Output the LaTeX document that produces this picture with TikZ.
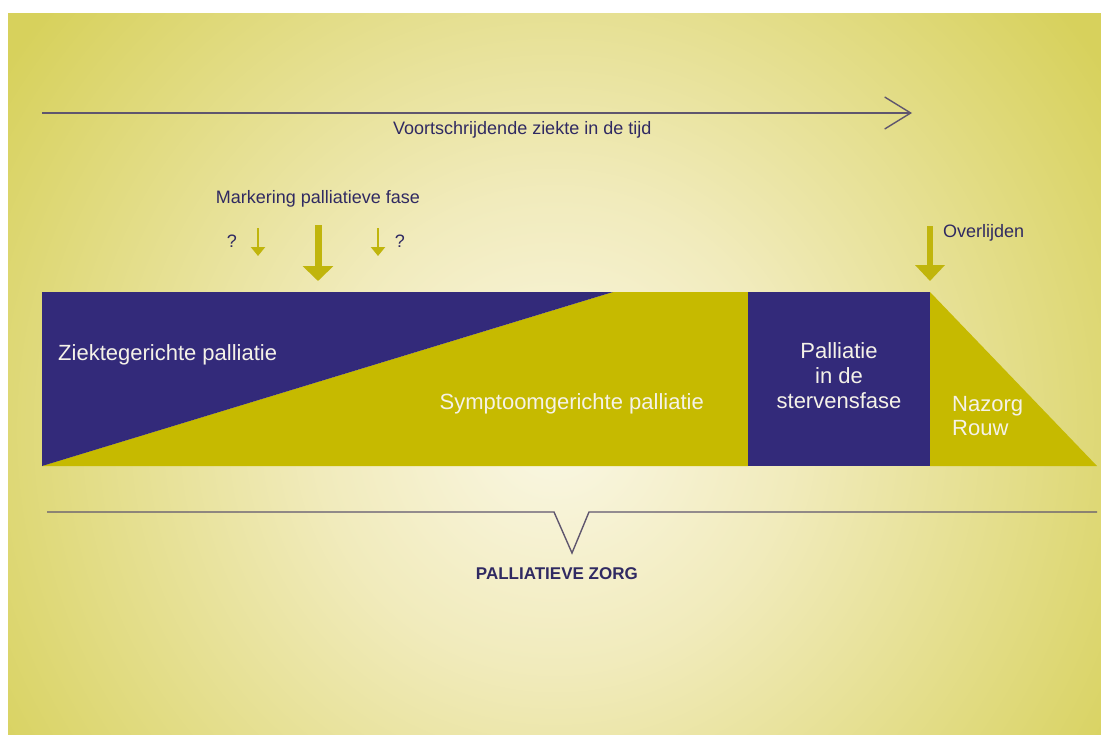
\documentclass[tikz,border=0pt]{standalone}
\usepackage{fontspec}
\setmainfont{Liberation Sans}
\usetikzlibrary{arrows.meta}
\definecolor{navy}{RGB}{51,42,122}
\definecolor{olive}{RGB}{198,186,0}
\definecolor{arrowol}{RGB}{192,181,12}
\definecolor{txt}{RGB}{48,42,98}
\definecolor{linec}{RGB}{95,86,110}
\definecolor{bgc}{RGB}{250,247,228}
\definecolor{bgm}{RGB}{241,235,188}
\definecolor{bge}{RGB}{215,209,92}
\definecolor{lighttxt}{RGB}{245,242,232}
\pgfdeclareradialshading{bgshade}{\pgfpoint{0bp}{0bp}}{color(0bp)=(bgc); color(9bp)=(bgm); color(25bp)=(bge); color(50bp)=(bge)}
\begin{document}
\begin{tikzpicture}[x=1pt,y=-1pt,
  lbl/.style={inner sep=0pt, text=txt, font=\fontsize{18}{21}\selectfont},
  big/.style={inner sep=0pt, font=\fontsize{22}{25}\selectfont, text=lighttxt},
  guide/.style={draw=linec, line width=1.4pt},
  blockarrow/.style={draw=arrowol, line width=7pt, -{Triangle[length=15pt,width=30pt]}},
  smallarrow/.style={draw=arrowol, line width=2.5pt, -{Triangle[length=9pt,width=14pt]}},
]
\useasboundingbox (0,0) rectangle (1101,734);
\fill[white] (0,0) rectangle (1101,734);
\begin{scope}
  \clip (8,13) rectangle (1101,734);
  \fill[bge] (8,13) rectangle (1101,734);
  \shade[shading=bgshade] (555,430) circle (660pt);
\end{scope}

% time arrow
\coordinate (tA) at (42,113);
\coordinate (tB) at (912,113);
\draw[guide, -{Straight Barb[length=26pt,width=32pt]}] (tA) -- (tB);
\node[lbl, anchor=base west] (time) at (393,134) {Voortschrijdende ziekte in de tijd};

% markering
\node[lbl, anchor=base] (mark) at (318,203) {Markering palliatieve fase};
\node[lbl, anchor=base] (q1) at (232,247) {?};
\node[lbl, anchor=base] (q2) at (400,247) {?};
\coordinate (s1a) at (258,228); \coordinate (s1b) at (258,256);
\coordinate (s2a) at (378,228); \coordinate (s2b) at (378,256);
\coordinate (bA) at (318,225); \coordinate (bB) at (318,281);
\draw[smallarrow] (s1a) -- (s1b);
\draw[smallarrow] (s2a) -- (s2b);
\draw[blockarrow] (bA) -- (bB);

% overlijden
\coordinate (oA) at (930,226); \coordinate (oB) at (930,281);
\draw[blockarrow, line width=6pt, -{Triangle[length=16pt,width=29pt]}] (oA) -- (oB);
\node[lbl, anchor=base west] (overl) at (943,237) {Overlijden};

% main band
\fill[olive] (42,466) -- (613,292) -- (748,292) -- (748,466) -- cycle;
\fill[navy] (42,292) -- (613,292) -- (42,466) -- cycle;
\fill[navy] (748,292) rectangle (930,466);
\fill[olive] (930,292) -- (1097,466) -- (930,466) -- cycle;

\node[big, anchor=base west] (ziek) at (58,360) {Ziektegerichte palliatie};
\node[big, anchor=base east] (symp) at (704,409) {Symptoomgerichte palliatie};
\node[big, anchor=base] (p1) at (839,358) {Palliatie};
\node[big, anchor=base] (p2) at (839,383) {in de};
\node[big, anchor=base] (p3) at (839,408) {stervensfase};
\node[big, anchor=base west] (naz) at (952,411) {Nazorg};
\node[big, anchor=base west] (rouw) at (952,435) {Rouw};

% brace
\coordinate (bl) at (47,512);
\coordinate (v1) at (554,512);
\coordinate (v2) at (572,553);
\coordinate (v3) at (589,512);
\coordinate (br) at (1097,512);
\draw[guide, line join=miter] (bl) -- (v1) -- (v2) -- (v3) -- (br);
\node[inner sep=0pt, anchor=base east, text=txt, font=\fontsize{17}{20}\selectfont\bfseries] (pz) at (638,579) {PALLIATIEVE ZORG};
\end{tikzpicture}
\end{document}
